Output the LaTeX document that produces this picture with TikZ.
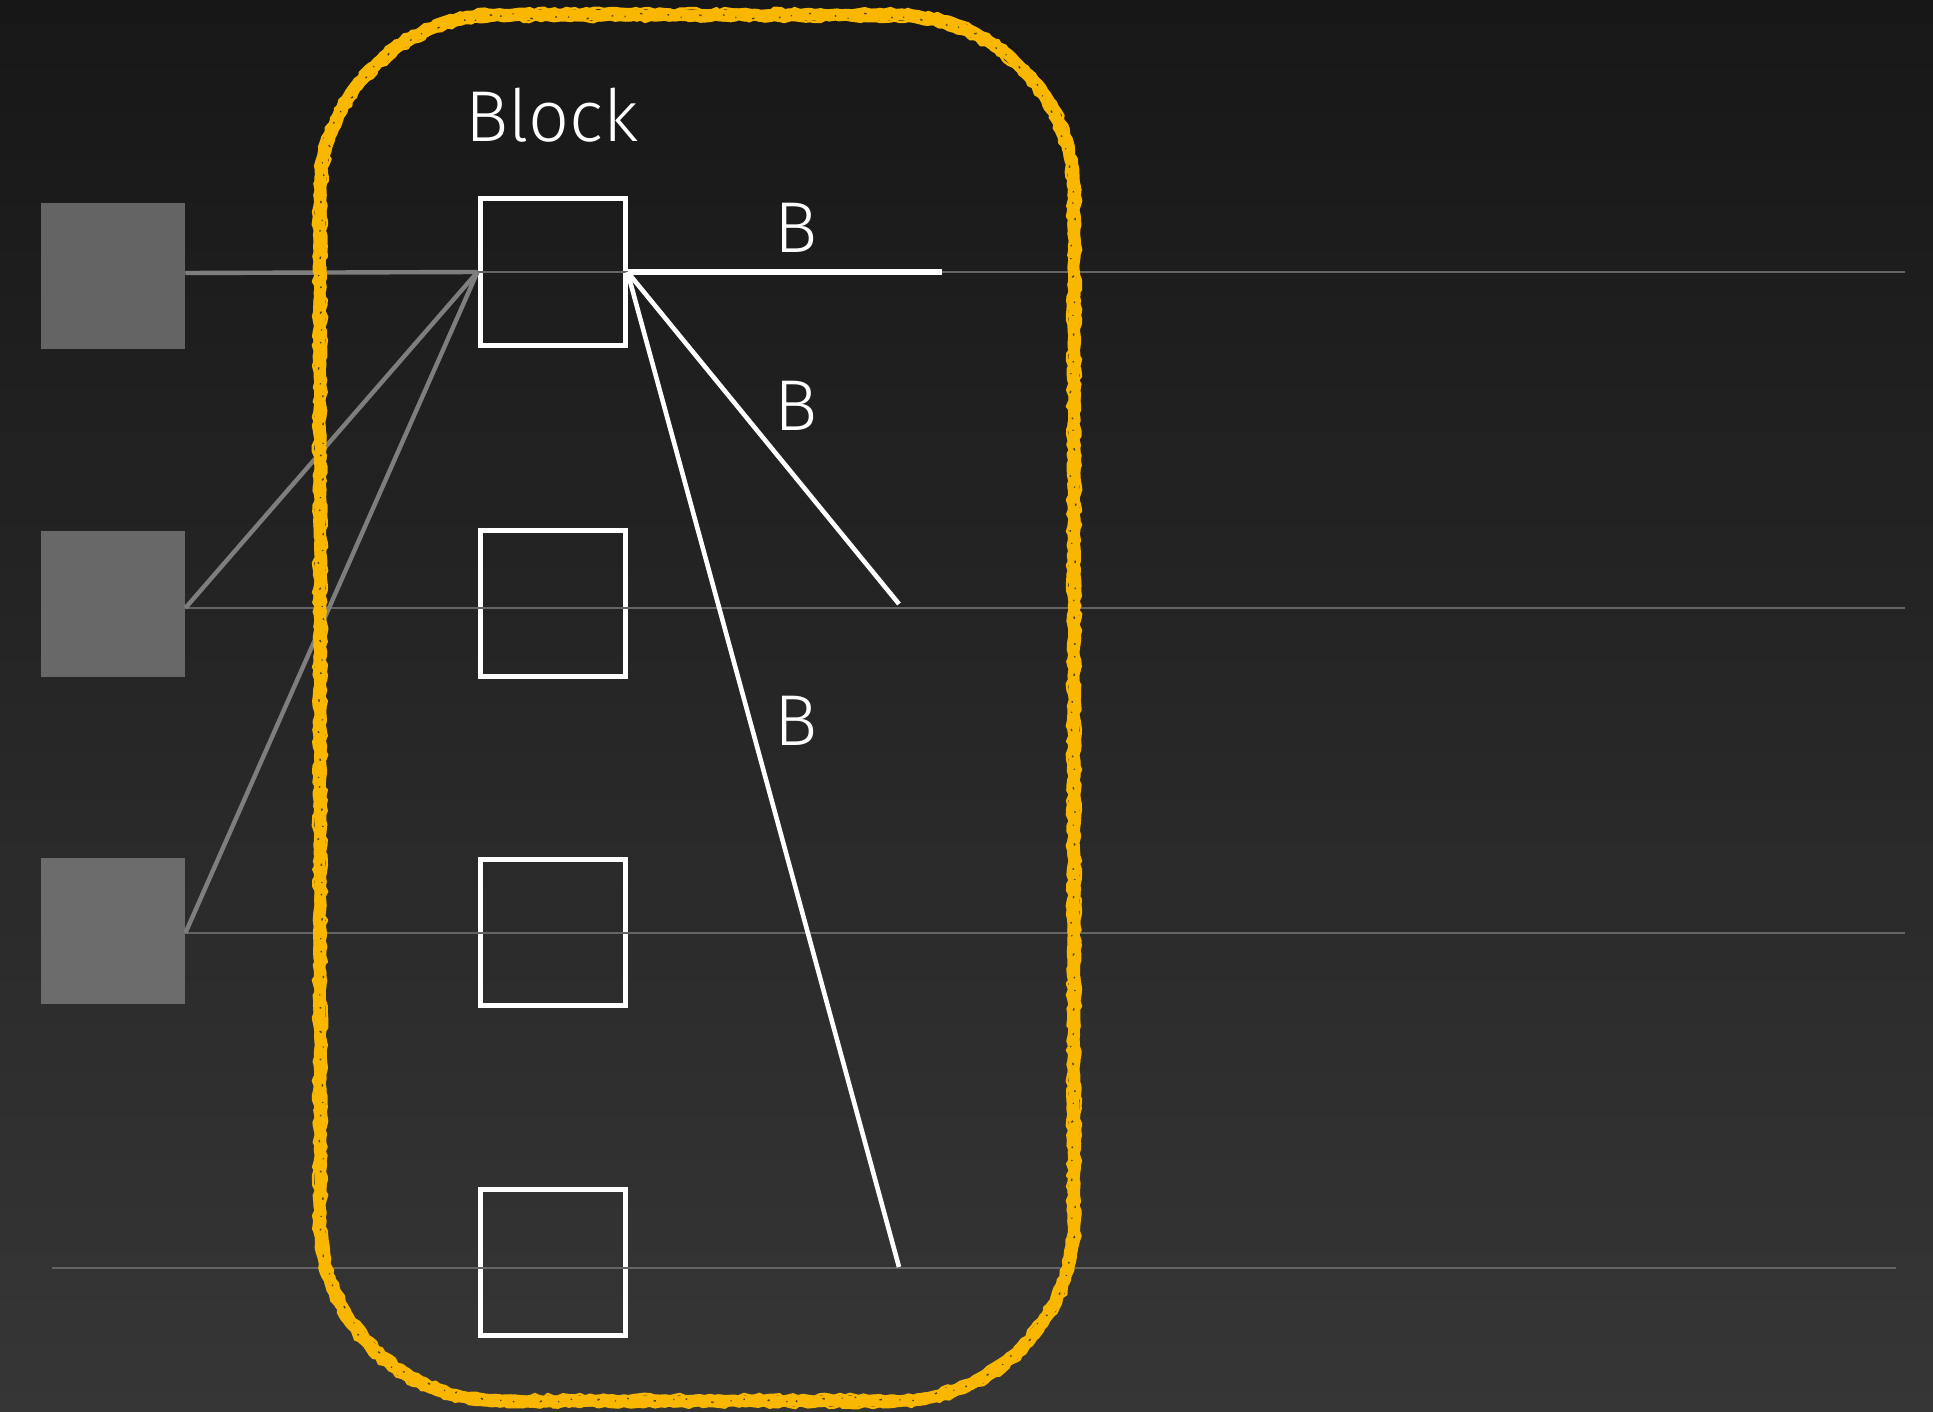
\documentclass[tikz,border=0pt]{standalone}
\usepackage{fontspec}
\setmainfont{Fira Sans}[UprightFont={* Light}]
\usetikzlibrary{decorations.pathmorphing}
\definecolor{bgtop}{HTML}{171717}
\definecolor{bgbot}{HTML}{363636}
\definecolor{chalk}{HTML}{F9B700}
\definecolor{gsqA}{HTML}{646464}
\definecolor{gsqB}{HTML}{686868}
\definecolor{gsqC}{HTML}{6C6C6C}
\definecolor{gridc}{HTML}{646464}
\definecolor{linkc}{HTML}{7E7E7E}
\newcommand\rrpath[5]{({#1+#5},#2) -- ({#3-#5},#2) arc[start angle=90,end angle=0,radius=#5]
  -- (#3,{#4+#5}) arc[start angle=0,end angle=-90,radius=#5]
  -- ({#1+#5},#4) arc[start angle=-90,end angle=-180,radius=#5]
  -- (#1,{#2-#5}) arc[start angle=180,end angle=90,radius=#5] -- cycle}
\begin{document}
\begin{tikzpicture}[x=0.5pt,y=-0.5pt,
  wbox/.style={draw=white, line width=2.5pt, minimum width=72.5pt, minimum height=73pt, inner sep=0pt},
  gbox/.style={minimum width=72pt, minimum height=73pt, inner sep=0pt},
  gridline/.style={draw=gridc, line width=1.2pt},
  linkline/.style={draw=linkc, line width=2.2pt},
  wline/.style={draw=white, line width=2.3pt},
  lbl/.style={text=white, font=\fontsize{36pt}{40pt}\selectfont, inner sep=0pt, anchor=base},
  chalkmain/.style={draw=chalk, line width=5.8pt, line join=round,
    decorate, decoration={random steps, segment length=2pt, amplitude=0.5pt}},
  chalkedge/.style={draw=chalk, line width=1.2pt, line join=round,
    decorate, decoration={random steps, segment length=2.5pt, amplitude=0.8pt}},
  chalkspeck/.style={draw=bgtop, line width=0.7pt, opacity=0.7,
    dash pattern=on 0.8pt off 6pt on 0.5pt off 9pt on 1.2pt off 13pt,
    decorate, decoration={random steps, segment length=3pt, amplitude=1.5pt}}
]
\pgfmathsetseed{7}
\useasboundingbox (0,0) rectangle (1933,1412);
\shade[top color=bgtop, bottom color=bgbot] (0,0) rectangle (1933,1412);

% grey source squares
\node[gbox, fill=gsqA] (g1) at (113,276) {};
\node[gbox, fill=gsqB] (g2) at (113,604) {};
\node[gbox, fill=gsqC] (g3) at (113,930.5) {};

% grid line end points
\coordinate (r1) at (1905,272);
\coordinate (r2) at (1905,608);
\coordinate (r3) at (1905,933);
\coordinate (l4) at (52,1268);
\coordinate (r4) at (1896,1268);

% white block squares
\node[wbox] (w1) at (552.5,272) {};
\node[wbox] (w2) at (552.5,603.5) {};
\node[wbox] (w3) at (552.5,932.5) {};
\node[wbox] (w4) at (552.5,1262.5) {};

% thin horizontal grid lines
\draw[gridline] (g1.east |- r1) -- (r1);
\draw[gridline] (g2.east |- r2) -- (r2);
\draw[gridline] (g3.east |- r3) -- (r3);
\draw[gridline] (l4) -- (r4);

% grey links into the first block square
\draw[linkline] (g1.east |- 0,273) -- (w1.west);
\draw[linkline] (g2.east |- r2) -- (w1.west);
\draw[linkline] (g3.east |- r3) -- (w1.west);

% white outputs
\coordinate (e1) at (942,272);
\coordinate (e2) at (899,604);
\coordinate (e3) at (899,1267);
\draw[wline, line width=3pt] (w1.east) -- (e1);
\draw[wline] (w1.east) -- (e2);
\draw[wline] (w1.east) -- (e3);

% labels
\node[lbl] (blk) at (552,142) {Block};
\node[lbl] (b1) at (796,253) {B};
\node[lbl] (b2) at (796,430) {B};
\node[lbl] (b3) at (796,745) {B};

% chalk outline (drawn in plain pt units)
\begin{scope}[x=1pt,y=1pt]
\draw[chalkmain] \rrpath{160}{-7.5}{537}{-700.5}{90};
\draw[chalkedge] \rrpath{157.2}{-4.7}{539.8}{-703.3}{92.8};
\draw[chalkedge] \rrpath{162.8}{-10.3}{534.2}{-697.7}{87.2};
\draw[chalkspeck] \rrpath{160.5}{-8}{536.5}{-700}{89.5};
\end{scope}
\end{tikzpicture}
\end{document}
